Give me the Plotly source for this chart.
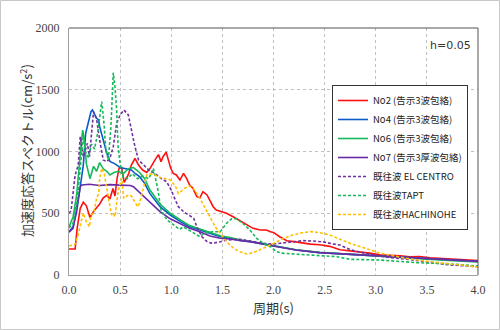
import plotly.graph_objects as go

# ---- data (period s, acceleration cm/s^2) ----
no2_t = [0, 0.06, 0.08, 0.11, 0.14, 0.17, 0.205, 0.24, 0.27, 0.30, 0.335, 0.37, 0.40, 0.43, 0.45, 0.47, 0.49, 0.515, 0.54, 0.58, 0.61, 0.645, 0.68, 0.72, 0.76, 0.79, 0.84, 0.875, 0.90, 0.92, 0.95, 0.97, 0.995, 1.02, 1.05, 1.085, 1.12, 1.15, 1.18, 1.21, 1.25, 1.28, 1.31, 1.35, 1.38, 1.41, 1.44, 1.48, 1.54, 1.61, 1.67, 1.74, 1.80, 1.87, 1.93, 1.97, 2.0, 2.06, 2.13, 2.2, 2.26, 2.36, 2.45, 2.55, 2.65, 2.75, 2.85, 2.94, 3.04, 3.14, 3.24, 3.33, 3.43, 3.53, 3.63, 3.73, 3.85, 4.0]
no2_v = [210, 210, 380, 540, 590, 560, 465, 515, 545, 575, 625, 645, 615, 700, 640, 780, 865, 870, 750, 812, 890, 945, 890, 850, 830, 860, 930, 975, 918, 958, 995, 945, 864, 823, 810, 769, 823, 782, 729, 705, 634, 625, 675, 648, 594, 553, 526, 515, 500, 470, 440, 405, 378, 364, 364, 350, 345, 310, 278, 270, 262, 250, 245, 232, 205, 196, 189, 177, 163, 160, 156, 148, 150, 140, 135, 130, 125, 118]

no4_t = [0, 0.04, 0.075, 0.11, 0.14, 0.163, 0.19, 0.215, 0.23, 0.25, 0.27, 0.29, 0.30, 0.335, 0.37, 0.40, 0.45, 0.5, 0.55, 0.61, 0.65, 0.69, 0.74, 0.79, 0.89, 0.99, 1.09, 1.18, 1.28, 1.38, 1.48, 1.575, 1.67, 1.77, 2.0, 2.22, 2.45, 2.65, 2.85, 3.04, 3.24, 3.5, 3.75, 4.0]
no4_v = [350, 391, 513, 702, 890, 1147, 1241, 1322, 1336, 1300, 1269, 1255, 1201, 1093, 985, 920, 900, 870, 860, 850, 820, 796, 742, 661, 553, 486, 432, 391, 364, 337, 310, 297, 280, 270, 235, 202, 181, 172, 160, 150, 140, 132, 120, 110]

no6_t = [0, 0.04, 0.075, 0.09, 0.118, 0.134, 0.15, 0.17, 0.205, 0.24, 0.27, 0.30, 0.335, 0.37, 0.40, 0.44, 0.48, 0.53, 0.58, 0.63, 0.69, 0.74, 0.79, 0.89, 0.99, 1.09, 1.18, 1.28, 1.38, 1.48, 1.575, 1.67, 1.77, 2.0, 2.22, 2.45, 2.65, 2.85, 3.04, 3.24, 3.5, 3.75, 4.0]
no6_v = [390, 472, 648, 810, 1050, 1174, 1093, 900, 780, 880, 840, 910, 860, 840, 810, 830, 840, 820, 860, 870, 830, 780, 690, 575, 500, 445, 400, 372, 345, 318, 303, 285, 273, 238, 205, 183, 172, 160, 148, 138, 128, 116, 105]

no7_t = [0, 0.04, 0.075, 0.11, 0.125, 0.2, 0.3, 0.4, 0.5, 0.6, 0.63, 0.69, 0.79, 0.89, 0.99, 1.09, 1.18, 1.28, 1.38, 1.48, 1.575, 1.67, 1.77, 2.0, 2.22, 2.45, 2.65, 2.85, 3.04, 3.24, 3.5, 3.75, 4.0]
no7_v = [346, 378, 540, 715, 729, 735, 725, 732, 728, 725, 715, 670, 594, 513, 455, 413, 378, 351, 315, 297, 292, 280, 270, 235, 202, 181, 172, 160, 150, 140, 130, 120, 110]

elc_t = [0, 0.02, 0.06, 0.09, 0.11, 0.14, 0.18, 0.2, 0.24, 0.27, 0.3, 0.335, 0.37, 0.4, 0.433, 0.466, 0.5, 0.538, 0.58, 0.61, 0.645, 0.68, 0.73, 0.78, 0.84, 0.9, 0.955, 1.0, 1.04, 1.07, 1.12, 1.17, 1.22, 1.25, 1.30, 1.35, 1.4, 1.48, 1.54, 1.61, 1.67, 1.77, 1.9, 2.0, 2.1, 2.19, 2.29, 2.39, 2.49, 2.58, 2.65, 2.75, 2.94, 3.14, 3.33, 3.53, 3.73, 4.0]
elc_v = [500, 520, 810, 890, 1120, 958, 1066, 958, 1322, 1260, 1093, 931, 918, 945, 1039, 1228, 1296, 1336, 1296, 1174, 1039, 931, 890, 850, 823, 782, 755, 688, 607, 553, 513, 486, 459, 391, 310, 270, 256, 270, 283, 288, 290, 275, 256, 251, 262, 270, 278, 275, 268, 251, 243, 205, 167, 140, 125, 103, 81, 67]

taft_t = [0, 0.04, 0.08, 0.1, 0.12, 0.14, 0.16, 0.19, 0.22, 0.25, 0.28, 0.3, 0.32, 0.345, 0.36, 0.385, 0.41, 0.433, 0.45, 0.466, 0.48, 0.5, 0.53, 0.57, 0.62, 0.67, 0.72, 0.78, 0.825, 0.87, 0.9, 0.96, 1.02, 1.08, 1.12, 1.18, 1.25, 1.28, 1.32, 1.4, 1.48, 1.54, 1.59, 1.64, 1.70, 1.77, 1.835, 1.9, 1.97, 2.03, 2.1, 2.23, 2.36, 2.49, 2.62, 2.75, 3.04, 3.4, 3.73, 4.0]
taft_v = [380, 420, 600, 800, 1000, 1130, 1000, 950, 1060, 1020, 1150, 1300, 1405, 1200, 1010, 930, 1200, 1638, 1520, 1336, 1040, 900, 790, 780, 820, 780, 800, 780, 864, 688, 526, 445, 405, 370, 390, 360, 324, 310, 337, 350, 350, 418, 455, 455, 418, 364, 297, 256, 229, 189, 175, 170, 162, 155, 148, 127, 121, 100, 90, 73]

hachi_t = [0, 0.03, 0.06, 0.09, 0.11, 0.14, 0.17, 0.2, 0.215, 0.24, 0.27, 0.29, 0.3, 0.32, 0.345, 0.37, 0.40, 0.415, 0.43, 0.45, 0.48, 0.515, 0.535, 0.58, 0.61, 0.645, 0.67, 0.69, 0.73, 0.76, 0.79, 0.84, 0.89, 0.99, 1.04, 1.07, 1.1, 1.13, 1.18, 1.23, 1.28, 1.33, 1.38, 1.43, 1.48, 1.54, 1.61, 1.67, 1.74, 1.80, 1.90, 2.0, 2.1, 2.19, 2.29, 2.37, 2.45, 2.55, 2.65, 2.75, 2.85, 3.04, 3.14, 3.33, 3.53, 3.73, 4.0]
hachi_v = [235, 240, 250, 330, 391, 500, 432, 391, 486, 500, 621, 660, 783, 864, 820, 702, 567, 486, 500, 472, 675, 783, 621, 648, 640, 594, 553, 580, 702, 810, 820, 810, 790, 770, 720, 661, 680, 702, 720, 688, 621, 540, 459, 391, 337, 270, 216, 189, 170, 181, 216, 256, 297, 324, 343, 351, 343, 324, 290, 256, 229, 178, 160, 130, 108, 90, 65]

names = ["No2 (告示3波包絡)", "No4 (告示3波包絡)", "No6 (告示3波包絡)", "No7 (告示3厚波包絡)",
         "既往波 EL CENTRO", "既往波TAPT", "既往波HACHINOHE"]
x_ticks = [0, 0.5, 1.0, 1.5, 2.0, 2.5, 3.0, 3.5, 4.0]
y_ticks = [0, 500, 1000, 1500, 2000]

series = [
    (no2_t, no2_v, "#ff1010", "solid"),
    (no4_t, no4_v, "#0a5cc8", "solid"),
    (no6_t, no6_v, "#16b85a", "solid"),
    (no7_t, no7_v, "#6a2aa8", "solid"),
    (elc_t, elc_v, "#7030a0", "3px,2px"),
    (taft_t, taft_v, "#16b85a", "3px,2px"),
    (hachi_t, hachi_v, "#ffc000", "3px,2px"),
]

fig = go.Figure()
for (t, v, c, d), n in zip(series, names):
    fig.add_trace(go.Scatter(x=t, y=v, mode="lines", name=n,
                             line=dict(color=c, width=1.6, dash=d)))

W, H = 500, 330
L, R, T, B = 69, 22, 28, 55
pw, ph = W - L - R, H - T - B

def px(x):
    return (x - L) / pw

def py(y):
    return (H - B - y) / ph

fig.update_layout(
    width=W, height=H,
    margin=dict(l=L, r=R, t=T, b=B),
    paper_bgcolor="white", plot_bgcolor="white",
    showlegend=True,
    legend=dict(x=px(332), y=py(85), xanchor="left", yanchor="top",
                bgcolor="white", bordercolor="#333", borderwidth=1,
                font=dict(family="Noto Sans CJK JP", size=9.5, color="#222"),
                tracegroupgap=0),
    font=dict(family="Noto Sans CJK JP", color="#333"),
)
fig.update_xaxes(range=[0, 4.0], tickvals=x_ticks, ticktext=[f"{v:.1f}" for v in x_ticks],
                 showgrid=True, gridcolor="#c0c0c0", griddash="dot", gridwidth=1,
                 zeroline=False, showline=True, linecolor="#a0a0a0", linewidth=1,
                 ticks="", ticklabelstandoff=4,
                 tickfont=dict(family="Liberation Serif", size=12, color="#444"))
fig.update_yaxes(range=[0, 2000], tickvals=y_ticks, ticktext=[str(v) for v in y_ticks],
                 showgrid=True, gridcolor="#c0c0c0", griddash="dot", gridwidth=1,
                 zeroline=False, showline=True, linecolor="#a0a0a0", linewidth=1,
                 ticks="", ticklabelstandoff=6,
                 tickfont=dict(family="Liberation Serif", size=12, color="#444"))

# axis titles
fig.add_annotation(x=px(273), y=py(307), xref="paper", yref="paper", text="周期(s)",
                   xanchor="center", yanchor="middle",
                   showarrow=False, font=dict(family="Noto Sans CJK JP", size=13, color="#333"))
fig.add_annotation(x=px(26), y=py(151), xref="paper", yref="paper",
                   text="加速度応答スペクトル(cm/s<sup>2</sup>)", textangle=-90,
                   xanchor="center", yanchor="middle",
                   showarrow=False, font=dict(family="Noto Sans CJK JP", size=13, color="#333"))

# plot frame top/right
fig.add_shape(type="line", xref="paper", yref="paper", x0=0, x1=1, y0=1, y1=1, line=dict(color="#555", width=1))
fig.add_shape(type="line", xref="paper", yref="paper", x0=1, x1=1, y0=0, y1=1, line=dict(color="#555", width=1))
# outer image border
fig.add_shape(type="rect", xref="paper", yref="paper",
              x0=px(0.5), x1=px(W - 0.5), y0=py(H - 0.5), y1=py(0.5),
              line=dict(color="#c8c8c8", width=1))

fig.add_annotation(x=px(450), y=py(45), xref="paper", yref="paper",
                   text="h=0.05", showarrow=False, xanchor="center", yanchor="middle",
                   font=dict(family="DejaVu Sans", size=11, color="#333"))

fig.write_html("out.html")
